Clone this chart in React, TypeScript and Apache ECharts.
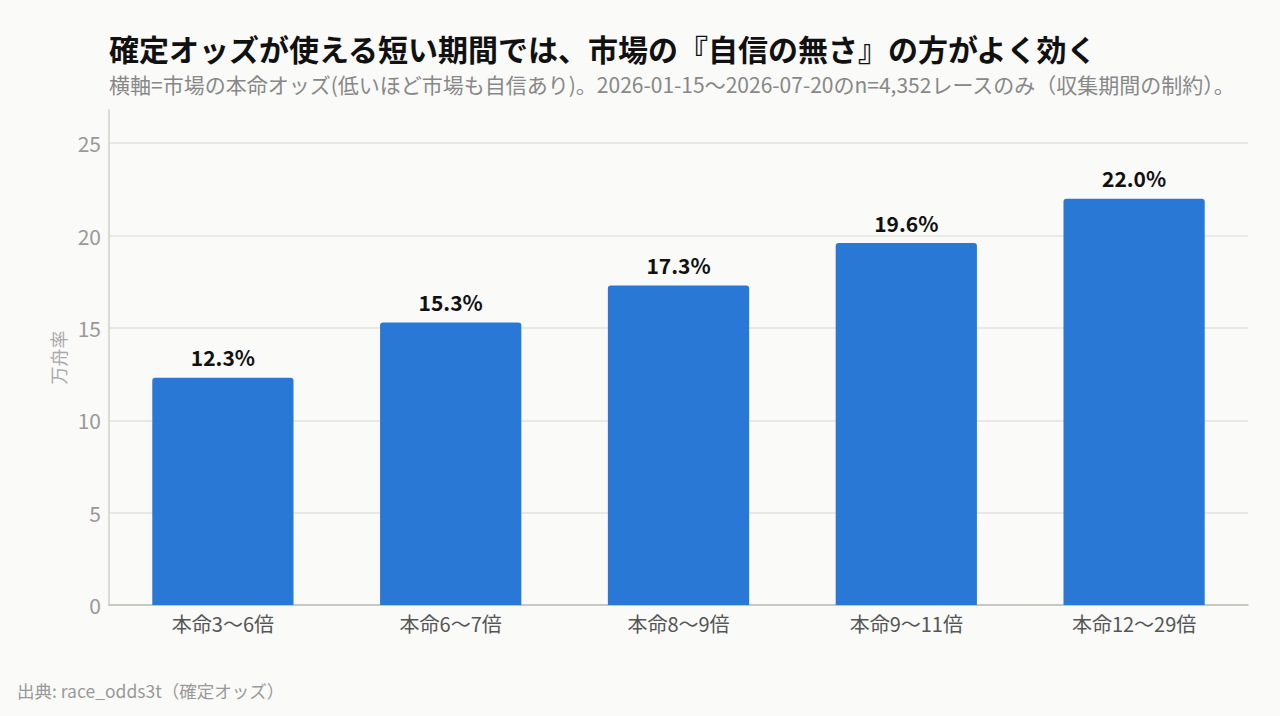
import React, { useEffect, useRef } from 'react';
import * as echarts from 'echarts';

const TITLE = '確定オッズが使える短い期間では、市場の『自信の無さ』の方がよく効く';
const SUBTITLE = '横軸=市場の本命オッズ(低いほど市場も自信あり)。2026-01-15〜2026-07-20のn=4,352レースのみ（収集期間の制約）。';
const SOURCE = '出典: race_odds3t（確定オッズ）';

const categories = ['本命3〜6倍', '本命6〜7倍', '本命8〜9倍', '本命9〜11倍', '本命12〜29倍'];
const rates = [12.3, 15.3, 17.3, 19.6, 22.0];
const yTicks = [0, 5, 10, 15, 20, 25];

const FONT = '"Noto Sans CJK JP", "Noto Sans", sans-serif';

export default function App() {
  const ref = useRef<HTMLDivElement>(null);

  useEffect(() => {
    if (!ref.current) return;
    const chart = echarts.init(ref.current, undefined, { renderer: 'svg' });
    chart.setOption({
      animation: false,
      backgroundColor: '#fafaf9',
      textStyle: { fontFamily: FONT },
      title: [
        {
          text: TITLE,
          left: 104,
          top: 28,
          padding: [5, 5, 0, 5],
          textStyle: { fontSize: 30, lineHeight: 30, fontWeight: 'bold', color: '#111', fontFamily: FONT },
        },
        {
          text: SUBTITLE,
          left: 104,
          top: 68,
          padding: [5, 5, 0, 5],
          textStyle: { fontSize: 21, lineHeight: 21, fontWeight: 'normal', color: '#888', fontFamily: FONT },
        },
        {
          text: SOURCE,
          left: 12,
          top: 677,
          textStyle: { fontSize: 17.5, fontWeight: 'normal', color: '#999', fontFamily: FONT },
        },
      ],
      grid: { left: 109, right: 32, top: 110, bottom: 111, containLabel: false },
      xAxis: {
        type: 'category',
        data: categories,
        axisLine: { lineStyle: { color: '#bdbdb8', width: 1.5 } },
        axisTick: { show: false },
        axisLabel: { color: '#555', fontSize: 20, margin: 8, fontFamily: FONT },
      },
      yAxis: {
        type: 'value',
        min: yTicks[0],
        max: 26.8,
        interval: yTicks[1] - yTicks[0],
        name: '万舟率',
        nameLocation: 'middle',
        nameGap: 42,
        nameRotate: 90,
        nameTextStyle: { color: '#aaa', fontSize: 18, fontFamily: FONT },
        axisLine: { show: true, lineStyle: { color: '#cfcfca', width: 1.5 } },
        axisTick: { show: false },
        axisLabel: { color: '#999', fontSize: 21, margin: 8, showMaxLabel: false, fontFamily: FONT },
        splitLine: { show: true, showMaxLine: false, lineStyle: { color: '#e2e2dd', width: 1.5 } },
      },
      series: [
        {
          type: 'bar',
          data: rates,
          barWidth: '62%',
          itemStyle: { color: '#2a78d6', borderRadius: [3, 3, 0, 0] },
          label: {
            show: true,
            position: 'top',
            distance: 10,
            color: '#111',
            fontSize: 21,
            fontWeight: 'bold',
            fontFamily: FONT,
            formatter: (p: { value: number }) => `${p.value.toFixed(1)}%`,
          },
        },
      ],
    });
    return () => chart.dispose();
  }, []);

  return (
    <div
      ref={ref}
      style={{ position: 'absolute', left: 0, top: 0, width: 1280, height: 716 }}
    />
  );
}
